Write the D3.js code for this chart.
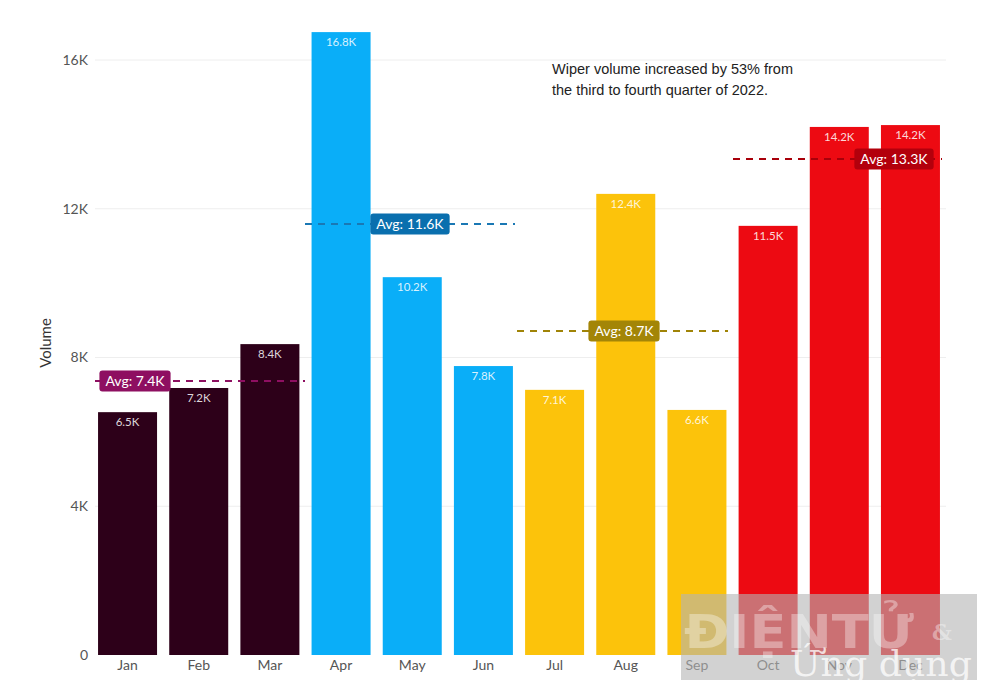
<!DOCTYPE html>
<html><head><meta charset="utf-8">
<script src="https://cdn.jsdelivr.net/npm/d3@7"></script>
<style>body{margin:0;background:#fff}svg{display:block}</style>
</head><body>
<svg id="c" width="987" height="693"></svg>
<script>
const months = ["Jan","Feb","Mar","Apr","May","Jun","Jul","Aug","Sep","Oct","Nov","Dec"];
const volumes = [6.5,7.2,8.4,16.8,10.2,7.8,7.1,12.4,6.6,11.5,14.2,14.2]; // in K
const barHeights = [6.53,7.18,8.36,16.75,10.16,7.77,7.13,12.4,6.59,11.54,14.2,14.25];
const quarterOf = [0,0,0,1,1,1,2,2,2,3,3,3];
const quarterAvg = [7.4,11.6,8.7,13.3];
const quarterAvgPos = [7.37,11.59,8.71,13.34];
const quarterColors = ["#2d0019","#0aaef8","#fcc30b","#ed0a12"];
const avgLineColors = ["#8e0f61","#1a78b4","#a08407","#a8000a"];
const avgLabelColors = ["#8e0f61","#0a6fae","#a38507","#b3000c"];
const yTicks = [0,4,8,12,16];
const annotation = ["Wiper volume increased by 53% from","the third to fourth quarter of 2022."];

const svg = d3.select("#c");
const x = d3.scaleBand().domain(months).range([92, 946]).paddingInner(0.171).paddingOuter(0.085);
const y = d3.scaleLinear().domain([0,16]).range([655,60]);
const fmt = v => v === 0 ? "0" : v + "K";

// gridlines
svg.append("g").selectAll("line").data(yTicks.filter(d=>d>0)).join("line")
  .attr("x1",95).attr("x2",946).attr("y1",d=>y(d)).attr("y2",d=>y(d))
  .attr("stroke","#eeeeee").attr("stroke-width",1);

// y axis
const ya = svg.append("g").attr("transform","translate(91,0)")
  .call(d3.axisLeft(y).tickValues(yTicks).tickFormat(fmt).tickSize(0).tickPadding(3));
ya.select(".domain").remove();
ya.selectAll("text").attr("font-family","Lato, sans-serif").attr("font-size",14).attr("fill","#555");

// x axis
const xa = svg.append("g").attr("transform","translate(0,655)")
  .call(d3.axisBottom(x).tickSize(0).tickPadding(5));
xa.select(".domain").remove();
xa.selectAll("text").attr("font-family","Lato, sans-serif").attr("font-size",14).attr("fill","#555");

svg.append("text").attr("transform","translate(51,343) rotate(-90)")
  .attr("text-anchor","middle").attr("font-family","Lato, sans-serif").attr("font-size",15).attr("fill","#333").text("Volume");

// bars
svg.append("g").selectAll("rect").data(months).join("rect")
  .attr("x",d=>x(d)).attr("width",x.bandwidth())
  .attr("y",(d,i)=>y(barHeights[i])).attr("height",(d,i)=>y(0)-y(barHeights[i]))
  .attr("fill",(d,i)=>quarterColors[quarterOf[i]]);

// bar labels
svg.append("g").selectAll("text").data(months).join("text")
  .attr("x",d=>x(d)+x.bandwidth()/2).attr("y",(d,i)=>y(barHeights[i])+14)
  .attr("text-anchor","middle").attr("font-family","Lato, sans-serif").attr("font-size",11.5)
  .attr("fill","#fff").attr("fill-opacity",0.85).text((d,i)=>volumes[i]+"K");

// average lines
const lineExt = [[95,305],[305,515],[517,728],[733,942]];
const labelX = [135,410,624,894];
quarterAvg.forEach((a,q)=>{
  const yy = y(quarterAvgPos[q]);
  svg.append("line").attr("x1",lineExt[q][0]).attr("x2",lineExt[q][1]).attr("y1",yy).attr("y2",yy)
    .attr("stroke",avgLineColors[q]).attr("stroke-width",2).attr("stroke-dasharray","7,6");
  const g = svg.append("g").attr("transform",`translate(${labelX[q]},${yy})`);
  const t = g.append("text").attr("text-anchor","middle").attr("dy","0.36em")
    .attr("font-family","Lato, sans-serif").attr("font-size",14).attr("fill","#fff").text("Avg: "+a+"K");
  const w = t.node().getComputedTextLength()+12;
  g.insert("rect","text").attr("x",-w/2).attr("y",-10.5).attr("width",w).attr("height",21)
    .attr("rx",3).attr("fill",avgLabelColors[q]);
});

// annotation
svg.append("g").selectAll("text").data(annotation).join("text")
  .attr("x",552).attr("y",(d,i)=>74+i*21)
  .attr("font-family","'Liberation Sans', Arial, sans-serif").attr("font-size",14.5).attr("fill","#222").text(d=>d);

// watermark
const wm = svg.append("g");
wm.append("rect").attr("x",681).attr("y",594).attr("width",296).attr("height",86).attr("fill","#b4b4b4").attr("fill-opacity",0.6);
wm.append("text").attr("x",684).attr("y",648).attr("font-family","'DejaVu Sans', sans-serif").attr("font-weight","bold")
  .attr("font-size",46).attr("fill","#ffffff").attr("fill-opacity",0.35).attr("textLength",230).attr("lengthAdjust","spacingAndGlyphs").text("ĐIỆNTỬ");
wm.append("text").attr("x",932).attr("y",640).attr("font-family","'DejaVu Serif', serif").attr("font-weight","bold")
  .attr("font-size",22).attr("fill","#ffffff").attr("fill-opacity",0.4).text("&");
wm.append("text").attr("x",790).attr("y",676).attr("font-family","'DejaVu Serif', serif")
  .attr("font-size",36).attr("fill","#ffffff").attr("fill-opacity",0.75).attr("textLength",182).attr("lengthAdjust","spacingAndGlyphs").text("Ứng dụng");
</script>
</body></html>
